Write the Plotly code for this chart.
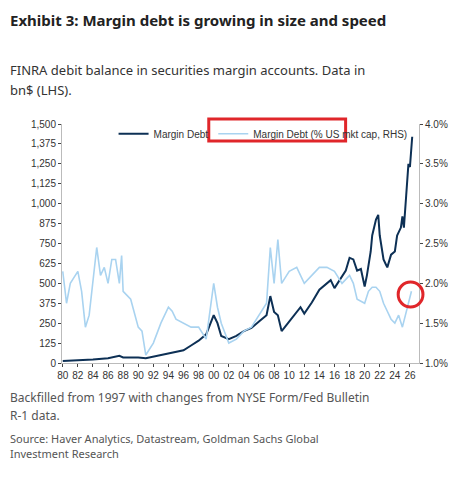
import plotly.graph_objects as go

md_x = [1980,1982,1984,1986,1987.5,1988,1990,1991,1992,1994,1996,1997,1998,1999,2000.0,2000.5,2001,2002,2003,2004,2005,2006,2007,2007.5,2008,2008.5,2009,2009.5,2010,2011,2011.5,2012,2013,2014,2015,2015.5,2016,2017,2017.5,2018,2018.5,2019,2019.5,2020,2020.3,2020.8,2021,2021.5,2021.8,2022,2022.5,2022.8,2023,2023.5,2024,2024.3,2024.8,2025.0,2025.2,2025.5,2025.8,2026.0,2026.1,2026.3]
md_y = [12,15,22,30,45,35,35,30,40,60,80,110,140,180,300,250,170,150,170,200,220,260,300,420,320,300,200,230,260,320,350,310,380,460,500,520,470,540,580,660,650,580,590,480,550,700,800,900,930,800,650,620,600,680,700,800,850,920,850,1050,1250,1230,1290,1420]
pct_x = [1980,1980.5,1981,1982,1982.5,1983,1983.5,1984,1984.5,1985,1985.5,1986,1986.5,1987,1987.5,1987.8,1988,1989,1990,1990.5,1991,1992,1993,1994,1994.5,1995,1996,1997,1998,1999,2000.0,2000.5,2001,2002,2003,2004,2005,2006,2007,2007.5,2008,2008.5,2009,2010,2011,2012,2013,2014,2015,2016,2017,2018,2018.5,2019,2020,2020.5,2021,2021.5,2022,2022.5,2023,2023.5,2024,2024.5,2025,2025.5,2026,2026.2]
pct_y = [2.15,1.75,2.0,2.15,1.9,1.45,1.6,2.0,2.45,2.1,2.2,2.0,2.3,2.3,2.0,2.35,1.9,1.8,1.45,1.4,1.1,1.25,1.5,1.7,1.65,1.55,1.5,1.45,1.45,1.3,2.0,1.7,1.5,1.25,1.3,1.4,1.45,1.6,1.75,2.45,2.0,2.55,2.0,2.15,2.2,2.0,2.1,2.2,2.2,2.15,2.0,2.1,2.0,1.8,1.75,1.9,1.95,1.95,1.9,1.75,1.65,1.55,1.5,1.6,1.45,1.65,1.85,1.9]
left_ticks = [0,125,250,375,500,625,750,875,1000,1125,1250,1375,1500]
right_ticks = [1.0,1.5,2.0,2.5,3.0,3.5,4.0]
years = list(range(1980, 2027, 2))

O = 8  # page body offset
L, R, T, B = 62 - O, 422 - O, 124 - O, 363 - O
W, Hh = 452, 474
H = B - T
PW = R - L
fig = go.Figure()
fig.add_trace(go.Scatter(x=pct_x, y=pct_y, name="Margin Debt (% US mkt cap, RHS)", yaxis="y2",
                         mode="lines", line=dict(color="#a9d3f0", width=1.6), legendrank=2))
fig.add_trace(go.Scatter(x=md_x, y=md_y, name="Margin Debt", mode="lines",
                         line=dict(color="#0d3055", width=2), legendrank=1))
tf = dict(family="Liberation Sans", size=10, color="#333")
fig.update_layout(
    width=W, height=Hh, margin=dict(l=L, r=W-R, t=T, b=Hh-B),
    plot_bgcolor="white", paper_bgcolor="white", showlegend=True,
    legend=dict(orientation="h", x=(114-O-L)/PW, y=1.02, yanchor="top", font=dict(family="Liberation Sans", size=10, color="#333"),
                bgcolor="rgba(0,0,0,0)", itemwidth=30, tracegroupgap=0),
    xaxis=dict(range=[1979.9, 2027.2], tickvals=years, ticktext=[f"{y%100:02d}" for y in years],
               showgrid=False, ticks="outside", ticklen=3, linecolor="#bbb", showline=True, tickfont=tf),
    yaxis=dict(range=[0, 1500], tickvals=left_ticks, ticktext=[f"{v:,}" for v in left_ticks],
               showgrid=False, showline=True, linecolor="#bbb", ticks="outside", ticklen=3, tickfont=tf),
    yaxis2=dict(range=[1.0, 4.0], overlaying="y", side="right", tickvals=right_ticks,
                ticktext=[f"{v:.1f}%" for v in right_ticks], showgrid=False, showline=True,
                linecolor="#bbb", ticks="outside", ticklen=3, tickfont=tf),
    font=dict(family="Noto Sans"),
)
def px(x): return (x - O - L) / PW
def py(y): return (B - (y - O)) / H
fig.add_shape(type="rect", xref="paper", yref="paper", x0=px(210), x1=px(348),
              y0=py(141), y1=py(119), line=dict(color="#e0262a", width=3))
fig.add_shape(type="circle", xref="paper", yref="paper", x0=px(401), x1=px(426),
              y0=py(307), y1=py(282), line=dict(color="#e0262a", width=3))
txt = [
    (8, 20, "<b>Exhibit 3: Margin debt is growing in size and speed</b>", 15, "#222"),
    (8, 70, "FINRA debit balance in securities margin accounts. Data in", 13, "#333"),
    (8, 90, "bn$ (LHS).", 13, "#333"),
    (8, 397, "Backfilled from 1997 with changes from NYSE Form/Fed Bulletin", 12, "#555"),
    (8, 415, "R-1 data.", 12, "#555"),
    (8, 438, "Source: Haver Analytics, Datastream, Goldman Sachs Global", 11, "#555"),
    (8, 453, "Investment Research", 11, "#555"),
]
for x, y, t, s, c in txt:
    fig.add_annotation(xref="paper", yref="paper", x=px(x), y=py(y), text=t,
                       showarrow=False, xanchor="left", yanchor="middle",
                       font=dict(family="Noto Sans", size=s, color=c))
fig.write_html("out.html")
